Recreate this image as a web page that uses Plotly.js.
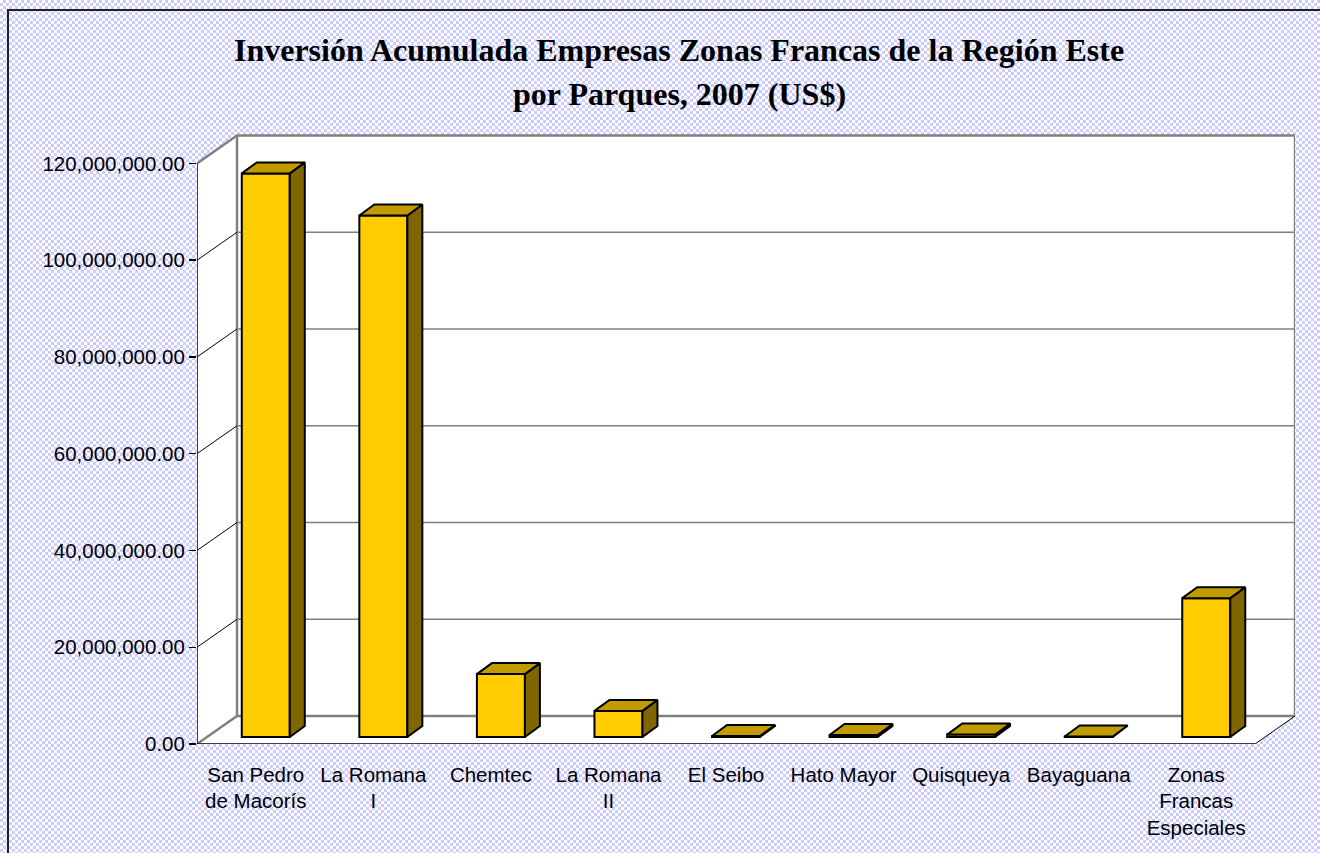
<!DOCTYPE html>
<html>
<head>
<meta charset="utf-8">
<script src="https://cdn.plot.ly/plotly-3.0.1.min.js"></script>
<style>
  html, body { margin: 0; padding: 0; overflow: hidden; width: 1320px; height: 853px; }
  body {
    background-color: #ffffff;
    background-image: repeating-conic-gradient(#ccccff 0 25%, #ffffff 0 50%);
    background-size: 6px 6px;
    position: relative;
  }
  #chart { position: absolute; left: 0; top: 0; width: 1320px; height: 853px; }
  #cover { position: absolute; left: 1302px; top: 11px; width: 18px; height: 842px; z-index: 10;
           background-color: #ffffff;
           background-image: repeating-conic-gradient(#ccccff 0 25%, #ffffff 0 50%);
           background-size: 6px 6px; background-position: -1302px -11px; }
</style>
</head>
<body>
<div id="chart"></div>
<div id="cover"></div>
<script>
// ---- data ----
const categories = ["San Pedro<br>de Macorís", "La Romana<br>I", "Chemtec", "La Romana<br>II",
                    "El Seibo", "Hato Mayor", "Quisqueya", "Bayaguana", "Zonas<br>Francas<br>Especiales"];
const investment = [116500000, 107800000, 13000000, 5400000, 200000, 400000, 500000, 100000, 28700000];
const yTicks = [0, 20000000, 40000000, 60000000, 80000000, 100000000, 120000000];
const titleLine1 = "Inversión Acumulada Empresas Zonas Francas de la Región Este";
const titleLine2 = "por Parques, 2007 (US$)";

// ---- geometry (pseudo-3D oblique projection) ----
const n = categories.length;
const xMin = -0.5, xMax = 8.84;
const yMax = 126.3e6;
const plotW = 1098, plotH = 611;
const ux = plotW / (xMax - xMin);      // px per category unit
const uy = plotH / yMax;               // px per value unit
const DX = 40 / ux, DY = 28 / uy;      // wall depth offset
const bx = 10 / ux, by = 7 / uy;       // bar front offset
const ddx = 15 / ux, ddy = 11 / uy;    // bar depth
const hw = 24 / ux;                    // bar half width
const topMax = yTicks[yTicks.length - 1];

const xs = categories.map((c, i) => i);

// front faces (real bars)
const front = {
  type: 'bar', x: xs.map(i => i + bx), y: investment, base: xs.map(() => by),
  width: 2 * hw, marker: { color: '#FFCC00', line: { color: '#000', width: 2 } },
  hoverinfo: 'skip', showlegend: false
};
// top and side faces
const topX = [], topY = [], sideX = [], sideY = [];
investment.forEach((v, i) => {
  const l = i + bx - hw, r = i + bx + hw, yt = by + v;
  topX.push(l, r, r + ddx, l + ddx, l, null);
  topY.push(yt, yt, yt + ddy, yt + ddy, yt, null);
  sideX.push(r, r + ddx, r + ddx, r, r, null);
  sideY.push(by, by + ddy, yt + ddy, yt, by, null);
});
const topFaces = { type: 'scatter', mode: 'lines', x: topX, y: topY, fill: 'toself',
  fillcolor: '#C09C00', line: { color: '#000', width: 2 }, hoverinfo: 'skip', showlegend: false };
const sideFaces = { type: 'scatter', mode: 'lines', x: sideX, y: sideY, fill: 'toself',
  fillcolor: '#806600', line: { color: '#000', width: 2 }, hoverinfo: 'skip', showlegend: false };

// ---- walls, floor and grid as shapes ----
const L = xMin, R = n - 0.5;
const shapes = [];
const P = (pts) => 'M' + pts.map(p => p[0] + ',' + p[1]).join('L') + 'Z';
shapes.push({ type: 'path', xref: 'x', yref: 'y', layer: 'below',
  path: P([[L, 0], [L + DX, DY], [L + DX, DY + topMax], [L, topMax]]),
  fillcolor: '#fff', line: { width: 0 } });
shapes.push({ type: 'path', xref: 'x', yref: 'y', layer: 'below',
  path: P([[L, 0], [R, 0], [R + DX, DY], [L + DX, DY]]),
  fillcolor: '#fff', line: { width: 0 } });
shapes.push({ type: 'rect', xref: 'x', yref: 'y', layer: 'below',
  x0: L + DX, x1: R + DX, y0: DY, y1: DY + topMax,
  fillcolor: '#fff', line: { color: '#808080', width: 2.5 } });
yTicks.forEach((t, k) => {
  const edge = (k === 0 || k === yTicks.length - 1);
  if (!edge) {
    shapes.push({ type: 'line', xref: 'x', yref: 'y', layer: 'below',
      x0: L + DX, x1: R + DX, y0: DY + t, y1: DY + t, line: { color: '#808080', width: 1.6 } });
  }
  shapes.push({ type: 'line', xref: 'x', yref: 'y', layer: 'below',
    x0: L, x1: L + DX, y0: t, y1: DY + t,
    line: edge ? { color: '#808080', width: 2.5 } : { color: '#000', width: 1 } });
});
shapes.push({ type: 'line', xref: 'x', yref: 'y', layer: 'below',
  x0: L, x1: L, y0: 0, y1: topMax, line: { color: '#000', width: 1.5 } });
shapes.push({ type: 'line', xref: 'x', yref: 'y', layer: 'below',
  x0: L, x1: R, y0: 0, y1: 0, line: { color: '#000', width: 1.5 } });
shapes.push({ type: 'line', xref: 'x', yref: 'y', layer: 'below',
  x0: R, x1: R + DX, y0: 0, y1: DY, line: { color: '#000', width: 1 } });
// chart-area frame (left and top edges only; right/bottom are cut off in the original)
const px2x = (p) => (p - 197) / plotW, py2y = (p) => (744 - p) / plotH;
shapes.push({ type: 'path', xref: 'paper', yref: 'paper', layer: 'above',
  path: 'M' + px2x(8) + ',' + py2y(860) + 'L' + px2x(8) + ',' + py2y(10) + 'L' + px2x(1330) + ',' + py2y(10),
  line: { color: '#222', width: 2 } });

const boundaries = xs.map(i => i - 0.5).concat([n - 0.5]);
const font = { family: 'Liberation Sans, Arial, sans-serif', size: 20.5, color: '#000' };
const titleFont = { family: 'Liberation Serif, Times New Roman, serif', size: 32, color: '#000', weight: 'bold' };

const layout = {
  width: 1320, height: 853, autosize: false,
  margin: { l: 197, r: 25, t: 133, b: 109, pad: 0 },
  paper_bgcolor: 'rgba(0,0,0,0)', plot_bgcolor: 'rgba(0,0,0,0)',
  showlegend: false, hovermode: false, barmode: 'overlay',
  title: { text: titleLine1, x: 679 / 1320, xanchor: 'center', y: 1 - 50 / 853, yanchor: 'middle',
           yref: 'container', xref: 'container', font: titleFont },
  annotations: [{ text: '<b>' + titleLine2 + '</b>', xref: 'paper', yref: 'paper',
    x: (679 - 197) / plotW, y: (744 - 94) / plotH, xanchor: 'center', yanchor: 'middle', showarrow: false,
    font: titleFont }],
  xaxis: { range: [xMin, xMax], tickvals: xs, ticktext: categories, ticks: '',
           showgrid: false, zeroline: false, showline: false, tickfont: font,
           ticklabelstandoff: 16, fixedrange: true },
  xaxis2: { overlaying: 'x', anchor: 'y', side: 'bottom', range: [xMin, xMax],
            tickvals: boundaries, showticklabels: false, ticks: 'outside', ticklen: 9,
            tickcolor: '#000', tickwidth: 1.5, showgrid: false, zeroline: false, showline: false },
  yaxis: { range: [0, yMax], tickvals: yTicks, tickformat: ',.2f', ticks: 'outside', ticklen: 7,
           tickcolor: '#000', tickwidth: 1.5, showgrid: false, zeroline: false, showline: false,
           tickfont: font, fixedrange: true },
  shapes: shapes
};

Plotly.newPlot('chart', [front, sideFaces, topFaces], layout, { staticPlot: true, displayModeBar: false });
</script>
</body>
</html>
